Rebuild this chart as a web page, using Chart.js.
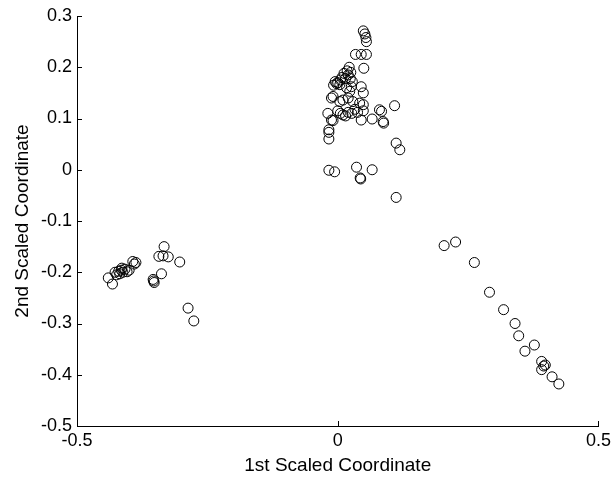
<!DOCTYPE html>
<html>
<head>
<meta charset="utf-8">
<script src="https://cdn.jsdelivr.net/npm/chart.js@4"></script>
<style>
  html, body { margin: 0; padding: 0; background: #fff; }
  #wrap { width: 615px; height: 478px; }
</style>
</head>
<body>
<div id="wrap"><canvas id="mdsChart"></canvas></div>
<script>
// Scaled coordinates
const firstCoord = [
  // left group
  -0.440, -0.432, -0.427, -0.424, -0.420, -0.418, -0.415, -0.414, -0.412, -0.408, -0.404, -0.400,
  -0.393, -0.387, -0.390, -0.354, -0.352, -0.353, -0.338, -0.333, -0.343, -0.335, -0.325, -0.303,
  -0.287, -0.276,
  // central group
  0.049, 0.052, 0.054, 0.055, 0.034, 0.045, 0.055, 0.050, 0.022, 0.018, 0.012, 0.008, 0.020,
  0.025, 0.015, 0.005, 0.024, 0.028, -0.005, -0.002, -0.008, 0.000, 0.004, 0.017, 0.026, 0.045,
  0.049, 0.023, -0.009, -0.012, 0.004, 0.010, 0.020, 0.029, 0.042, 0.049, 0.000, 0.005, 0.010,
  0.015, 0.020, 0.027, 0.033, 0.038, -0.019, -0.012, -0.009, 0.049, 0.045, 0.066, 0.080, 0.084,
  0.087, 0.088, 0.109, -0.017, -0.017, -0.017, 0.112, 0.119, -0.017, -0.006, 0.036, 0.043,
  0.044, 0.066, 0.112,
  // right tail
  0.204, 0.226, 0.262, 0.291, 0.318, 0.340, 0.347, 0.377, 0.359, 0.391, 0.398, 0.391, 0.395,
  0.411, 0.424
];
const secondCoord = [
  -0.211, -0.223, -0.200, -0.205, -0.198, -0.203, -0.196, -0.192, -0.200, -0.194, -0.199, -0.196,
  -0.179, -0.181, -0.184, -0.214, -0.220, -0.217, -0.203, -0.150, -0.169, -0.168, -0.170, -0.180,
  -0.270, -0.295,
  0.271, 0.265, 0.258, 0.250, 0.225, 0.225, 0.225, 0.198, 0.200, 0.193, 0.188, 0.180, 0.185,
  0.190, 0.178, 0.175, 0.178, 0.172, 0.172, 0.168, 0.165, 0.170, 0.166, 0.160, 0.162, 0.162,
  0.150, 0.153, 0.143, 0.140, 0.133, 0.136, 0.140, 0.133, 0.130, 0.127, 0.115, 0.110, 0.107,
  0.105, 0.112, 0.110, 0.118, 0.112, 0.110, 0.097, 0.096, 0.115, 0.097, 0.099, 0.117, 0.114,
  0.094, 0.091, 0.125, 0.078, 0.073, 0.060, 0.052, 0.039, -0.001, -0.004, 0.005, -0.016,
  -0.018, 0.000, -0.054,
  -0.148, -0.141, -0.181, -0.239, -0.273, -0.300, -0.324, -0.342, -0.354, -0.374, -0.381, -0.390,
  -0.383, -0.404, -0.418
];
const xTicks = [-0.5, 0, 0.5];
const yTicks = [-0.5, -0.4, -0.3, -0.2, -0.1, 0, 0.1, 0.2, 0.3];

const points = firstCoord.map((x, i) => ({ x: x, y: secondCoord[i] }));
const fmt = v => String(Number(v.toFixed(1)));

// matlab style tick marks pointing into the plot
const inwardTicks = {
  id: 'inwardTicks',
  afterDraw(chart) {
    const { ctx, chartArea, scales } = chart;
    ctx.save();
    ctx.strokeStyle = '#000';
    ctx.lineWidth = 1;
    ctx.beginPath();
    scales.x.ticks.forEach(t => {
      const px = Math.round(scales.x.getPixelForValue(t.value)) + 0.5;
      ctx.moveTo(px, chartArea.bottom);
      ctx.lineTo(px, chartArea.bottom - 5);
    });
    scales.y.ticks.forEach(t => {
      const py = Math.round(scales.y.getPixelForValue(t.value)) + 0.5;
      ctx.moveTo(chartArea.left, py);
      ctx.lineTo(chartArea.left + 5, py);
    });
    ctx.stroke();
    ctx.restore();
  }
};

Chart.defaults.font.family = '"Liberation Sans", Arial, sans-serif';
Chart.defaults.color = '#000';

new Chart(document.getElementById('mdsChart'), {
  type: 'scatter',
  data: {
    datasets: [{
      data: points,
      pointStyle: 'circle',
      pointRadius: 5,
      pointHoverRadius: 5,
      borderColor: '#000',
      borderWidth: 1,
      backgroundColor: 'rgba(0,0,0,0)'
    }]
  },
  options: {
    responsive: true,
    maintainAspectRatio: false,
    animation: false,
    layout: { padding: { top: 16, right: 16, left: 0, bottom: 0 } },
    plugins: { legend: { display: false }, tooltip: { enabled: false } },
    scales: {
      x: {
        type: 'linear',
        min: -0.5,
        max: 0.5,
        afterBuildTicks: s => { s.ticks = xTicks.map(v => ({ value: v })); },
        afterFit: s => { s.height = 52; },
        ticks: { callback: fmt, font: { size: 18 }, padding: 4, maxRotation: 0 },
        grid: { display: true, drawOnChartArea: false, drawTicks: false },
        border: { display: true, color: '#000', width: 1 },
        title: { display: true, text: '1st Scaled Coordinate', font: { size: 19 }, padding: { top: 0, bottom: 1 } }
      },
      y: {
        type: 'linear',
        min: -0.5,
        max: 0.3,
        afterBuildTicks: s => { s.ticks = yTicks.map(v => ({ value: v })); },
        afterFit: s => { s.width = 77; },
        ticks: { callback: fmt, font: { size: 18 }, padding: 5 },
        grid: { display: true, drawOnChartArea: false, drawTicks: false },
        border: { display: true, color: '#000', width: 1 },
        title: { display: true, text: '2nd Scaled Coordinate', font: { size: 19 }, padding: { top: 11, bottom: 0 } }
      }
    }
  },
  plugins: [inwardTicks]
});
</script>
</body>
</html>
